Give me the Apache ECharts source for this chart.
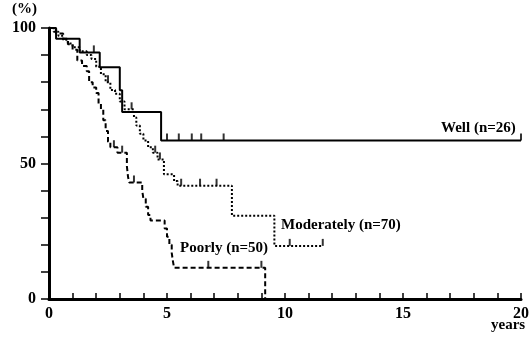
<!DOCTYPE html>
<html>
<head>
<meta charset="utf-8">
<script src="https://cdn.jsdelivr.net/npm/echarts@6/dist/echarts.min.js"></script>
<style>
  html, body { margin: 0; padding: 0; background: #fff; }
  #chart { width: 532px; height: 339px; }
</style>
</head>
<body>
<div id="chart"></div>
<script>
// Kaplan-Meier curves (years, % surviving)
const wellT = [0, 0.3, 1.3, 2.15, 3.0, 3.1, 4.75, 20];
const wellS = [100, 96, 91, 85.5, 77, 69, 58.5, 58.5];
const wellCens = [1.9, 5.0, 5.5, 6.05, 6.45, 7.4, 20];

const modT = [0, 0.2, 0.4, 0.6, 0.8, 1.0, 1.3, 1.6, 1.8, 2.0, 2.2, 2.4, 2.6, 2.8, 3.0, 3.2, 3.6, 3.7, 3.85, 4.0, 4.2, 4.4, 4.6, 4.87, 5.3, 5.45, 7.75, 9.55, 11.6];
const modS = [100, 98.6, 97.1, 95.7, 94.3, 92.9, 91.4, 90, 88.6, 85.7, 82.9, 80, 77.1, 75.7, 72.9, 70, 67, 64, 61, 58.5, 56, 54, 51.5, 46, 43.5, 41.8, 30.7, 19.6, 19.6];
const modCens = [2.5, 3.5, 4.5, 4.7, 5.6, 6.4, 7.1, 10.2, 11.6];

const poorT = [0, 0.3, 0.6, 0.8, 1.0, 1.2, 1.4, 1.6, 1.7, 1.85, 2.0, 2.1, 2.2, 2.3, 2.4, 2.5, 2.6, 2.9, 3.3, 3.35, 3.4, 3.95, 4.0, 4.1, 4.2, 4.3, 4.9, 5.0, 5.1, 5.2, 5.25, 5.3, 9.16];
const poorS = [100, 98, 96, 94, 92, 88, 86, 84, 80, 78, 76, 72, 70, 66, 62, 58, 56, 54, 49, 45, 43, 40, 37, 34, 31, 29, 26, 23, 20, 17, 14, 11.5, 0];
const poorCens = [2.75, 3.1, 3.6, 6.75, 9.0];

const seriesNames = ['Well (n=26)', 'Moderately (n=70)', 'Poorly (n=50)'];
const xTickLabels = [0, 5, 10, 15, 20];
const yTickLabels = [0, 50, 100];

const font = 'Liberation Serif';

function pairs(ts, ss) {
  return ts.map((t, i) => [t, ss[i]]);
}

// value of a step curve at time t
function survivalAt(ts, ss, t) {
  let v = ss[0];
  for (let i = 0; i < ts.length; i++) {
    if (ts[i] <= t) v = ss[i];
  }
  return v;
}

function censored(ts, ss, cens) {
  return cens.map(t => [t, survivalAt(ts, ss, t)]);
}

function curve(name, data, type, dash) {
  return {
    name: name,
    type: 'line',
    step: 'end',
    data: data,
    symbol: 'none',
    lineStyle: { color: '#000', width: 2, type: dash || type },
    z: 3
  };
}

function ticks(data) {
  return {
    type: 'scatter',
    data: data,
    symbol: 'rect',
    symbolSize: [2, 7],
    symbolOffset: [0, -3.5],
    itemStyle: { color: '#000' },
    z: 4
  };
}

const chart = echarts.init(document.getElementById('chart'));

const option = {
  animation: false,
  backgroundColor: '#fff',
  grid: { left: 49, right: 7, top: 28, bottom: 40 },
  xAxis: {
    type: 'value',
    min: 0,
    max: 20,
    interval: 1,
    axisLine: { lineStyle: { color: '#000', width: 3 } },
    axisTick: { inside: true, length: 6, lineStyle: { color: '#000', width: 1.5 } },
    axisLabel: {
      margin: 7,
      color: '#000',
      fontFamily: font,
      fontSize: 16,
      fontWeight: 'bold',
      formatter: v => (xTickLabels.includes(v) ? String(v) : '')
    },
    splitLine: { show: false }
  },
  yAxis: {
    type: 'value',
    min: 0,
    max: 100,
    interval: 10,
    axisLine: { show: true, lineStyle: { color: '#000', width: 3 } },
    axisTick: { show: true, inside: false, length: 8, lineStyle: { color: '#000', width: 1.5 } },
    axisLabel: {
      margin: 13,
      color: '#000',
      fontFamily: font,
      fontSize: 16,
      fontWeight: 'bold',
      formatter: v => (yTickLabels.includes(v) ? String(v) : '')
    },
    splitLine: { show: false }
  },
  graphic: [
    { type: 'text', left: 12, top: 2, style: { text: '(%)', font: 'bold 15px ' + font, fill: '#000' } },
    { type: 'text', left: 491, top: 318, style: { text: 'years', font: 'bold 15px ' + font, fill: '#000' } },
    { type: 'text', left: 441, top: 121, style: { text: seriesNames[0], font: 'bold 15px ' + font, fill: '#000' } },
    { type: 'text', left: 281, top: 218, style: { text: seriesNames[1], font: 'bold 15px ' + font, fill: '#000' } },
    { type: 'text', left: 180, top: 241, style: { text: seriesNames[2], font: 'bold 15px ' + font, fill: '#000' } }
  ],
  series: [
    curve(seriesNames[0], pairs(wellT, wellS), 'solid'),
    curve(seriesNames[1], pairs(modT, modS), 'dotted', [2, 2]),
    curve(seriesNames[2], pairs(poorT, poorS), 'dashed', [5, 3]),
    ticks(censored(wellT, wellS, wellCens)),
    ticks(censored(modT, modS, modCens)),
    ticks(censored(poorT, poorS, poorCens))
  ]
};

chart.setOption(option);
</script>
</body>
</html>
